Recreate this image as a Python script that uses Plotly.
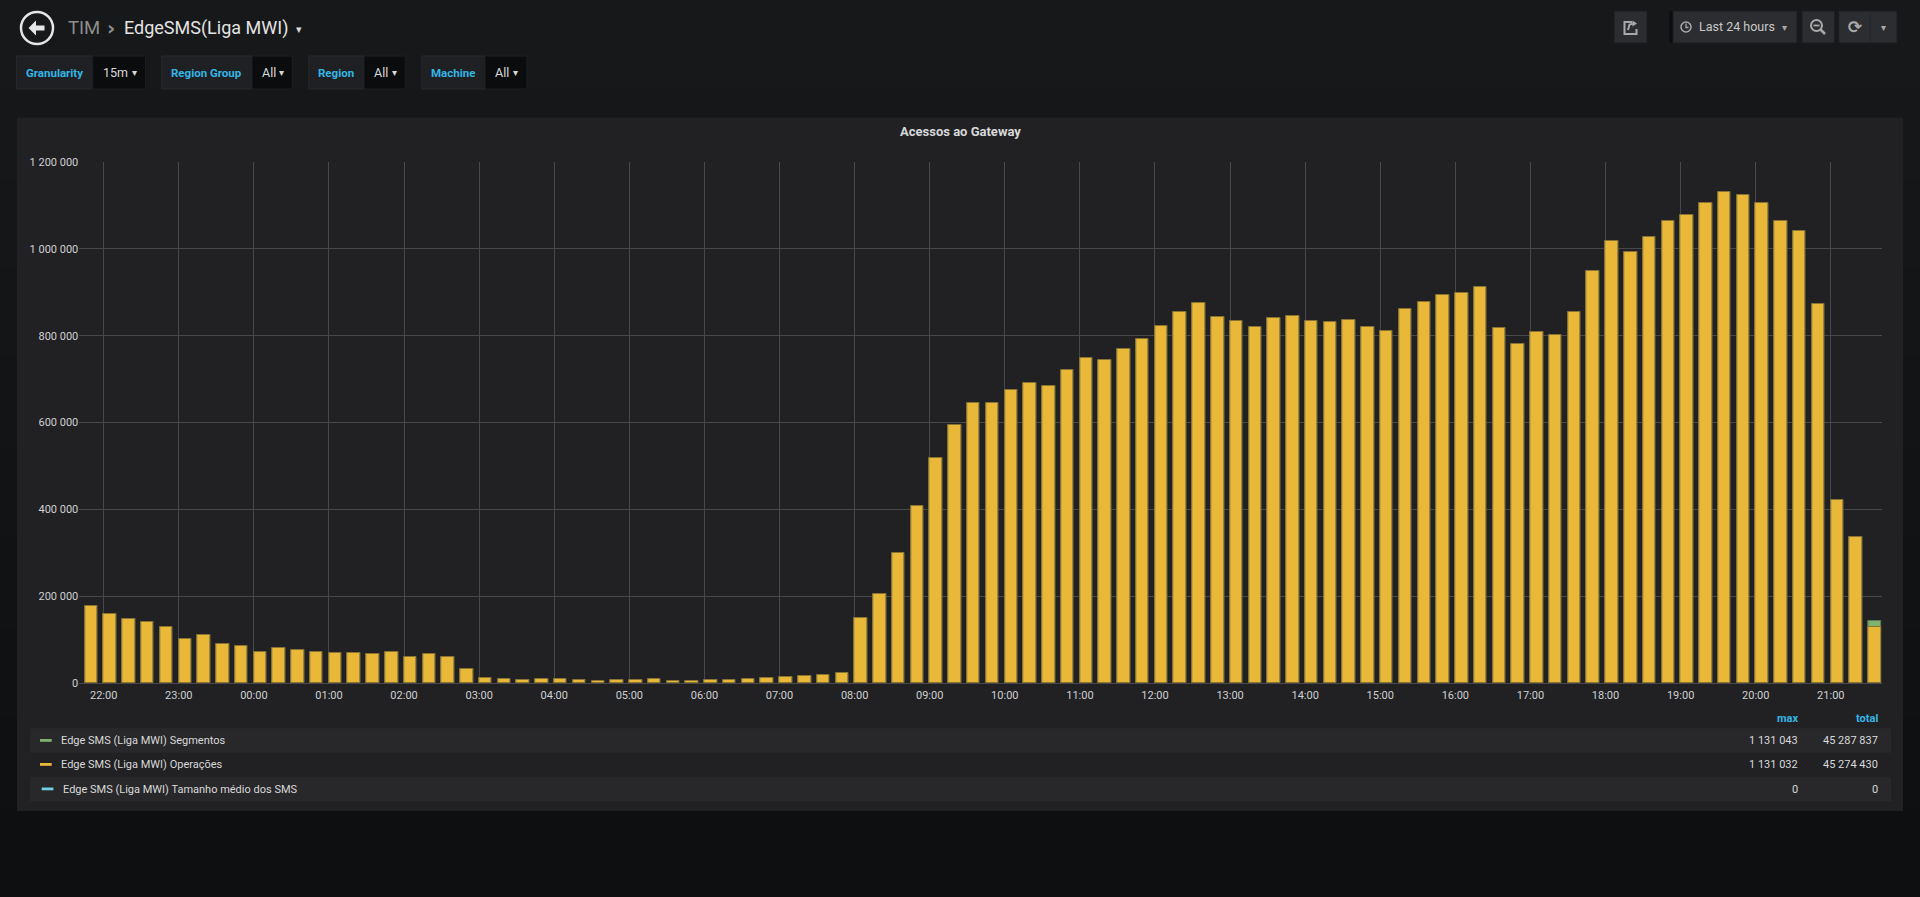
import pandas as pd
import plotly.graph_objects as go

# ---------------- data ----------------
bar_start = "2019-05-13 21:45"
bar_count = 96
range_start = "2019-05-13 21:40:30"
range_end = "2019-05-14 21:40:30"

operacoes = [
    178000, 160000, 148000, 140000, 129000, 102000, 110000, 89000, 85000,
    72000, 80000, 76000, 72500,
    69000, 69500, 67000, 71000,
    60000, 66000, 60000, 32000,
    11000, 9000, 7600, 8400,
    8400, 7000, 5300, 7000,
    7000, 9000, 5300, 4600,
    7000, 7600, 10000, 10700,
    14500, 16000, 18000, 23000,
    149000, 206000, 300000, 408000,
    519000, 594000, 646000, 646000,
    674000, 690000, 685000, 722000,
    748000, 743000, 770000, 793000,
    823000, 854000, 876000, 844000,
    834000, 819000, 840000, 846000,
    833000, 831000, 835000, 821000,
    811000, 862000, 877000, 893000,
    899000, 911000, 818000, 781000,
    808000, 801000, 855000, 950000,
    1017000, 992000, 1028000, 1063000,
    1077000, 1105000, 1131032, 1124000,
    1106000, 1063000, 1042000, 873000,
    421000, 336000, 128500,
]

segmentos = [
    178000, 160000, 148000, 140000, 129000, 102000, 110000, 89000, 85000,
    72000, 80000, 76000, 72500,
    69000, 69500, 67000, 71000,
    60000, 66000, 60000, 32000,
    11000, 9000, 7600, 8400,
    8400, 7000, 5300, 7000,
    7000, 9000, 5300, 4600,
    7000, 7600, 10000, 10700,
    14500, 16000, 18000, 23000,
    149000, 206000, 300000, 408000,
    519000, 594000, 646000, 646000,
    674000, 690000, 685000, 722000,
    748000, 743000, 770000, 793000,
    823000, 854000, 876000, 844000,
    834000, 819000, 840000, 846000,
    833000, 831000, 835000, 821000,
    811000, 862000, 877000, 893000,
    899000, 911000, 818000, 781000,
    808000, 801000, 855000, 950000,
    1017000, 992000, 1028000, 1063000,
    1077000, 1105000, 1131043, 1124000,
    1106000, 1063000, 1042000, 873000,
    421000, 336000, 141900,
]

tamanho = [0] * bar_count

series_names = [
    "Edge SMS (Liga MWI) Segmentos",
    "Edge SMS (Liga MWI) Operações",
    "Edge SMS (Liga MWI) Tamanho médio dos SMS",
]
series_colors = ["#7eb26d", "#eab839", "#6ed0e0"]
legend_max = ["1 131 043", "1 131 032", "0"]
legend_total = ["45 287 837", "45 274 430", "0"]

variables = [("Granularity", "15m"), ("Region Group", "All"), ("Region", "All"), ("Machine", "All")]
panel_title = "Acessos ao Gateway"

times = pd.date_range(bar_start, periods=bar_count, freq="15min")

# ---------------- helpers (pixel -> paper) ----------------
W, H = 1920, 897
FONT = "Roboto"
TEXT = "#d8d9da"
BLUE = "#33b5e5"


def X(px):
    return px / W


def Y(py):
    return 1 - py / H


shapes = []
annotations = []


def rect(x0, y0, x1, y1, fill, line_color=None, line_width=0):
    shapes.append(dict(
        type="rect", xref="paper", yref="paper", layer="below",
        x0=X(x0), x1=X(x1), y0=Y(y1), y1=Y(y0), fillcolor=fill,
        line=dict(color=line_color or fill, width=line_width),
    ))


def circle(cx, cy, r, line_color, width, fill="rgba(0,0,0,0)"):
    shapes.append(dict(
        type="circle", xref="paper", yref="paper", layer="above",
        x0=X(cx - r), x1=X(cx + r), y0=Y(cy + r), y1=Y(cy - r),
        fillcolor=fill, line=dict(color=line_color, width=width),
    ))


def path(points, color, width=0, fill=None, closed=False):
    d = "M " + " L ".join(f"{X(a):.6f},{Y(b):.6f}" for a, b in points)
    if closed:
        d += " Z"
    shapes.append(dict(
        type="path", xref="paper", yref="paper", layer="above", path=d,
        fillcolor=fill or "rgba(0,0,0,0)",
        line=dict(color=color, width=width),
    ))


def text(px, py, s, size, color, anchor="left", family=FONT):
    annotations.append(dict(
        x=X(px), y=Y(py), xref="paper", yref="paper", text=s, showarrow=False,
        xanchor=anchor, yanchor="middle", font=dict(family=family, size=size, color=color),
    ))


# ---------------- page background (vertical shading) ----------------
band_cols = ["#17181a", "#161719", "#151618", "#141517", "#131416", "#121315",
             "#111214", "#101113", "#0f1012", "#0e0f11"]
band_h = H / len(band_cols)
for i, c in enumerate(band_cols):
    rect(0, i * band_h, W, min(H, (i + 1) * band_h + 1), c)

# ---------------- header ----------------
circle(37, 28, 16, "#e6e6e6", 2.5)
path([(28.5, 28), (36, 20.5), (36, 25.5), (44.5, 25.5), (44.5, 30.5), (36, 30.5), (36, 35.5)],
     "#e6e6e6", 0, "#e6e6e6", closed=True)
text(66, 28, "TIM", 18.5, "#8e8e8e")
text(105, 28, "<b>›</b>", 20, "#8e8e8e", family="DejaVu Sans")
text(122, 28, "EdgeSMS(Liga MWI)", 18, "#e3e3e3")
text(299, 30, "▾", 11, "#d8d9da", anchor="center", family="DejaVu Sans")

# variable selectors
var_boxes = [(16.5, 92.7, 145.6), (161.7, 252, 292.3), (308.8, 364, 405.4), (421.8, 485, 526.8)]
for (lab, val), (a, b, c) in zip(variables, var_boxes):
    rect(a, 56, b, 89, "#1f2023", "#27282b", 1)
    rect(b, 56, c, 89, "#0b0c0e", "#1d1e21", 1)
    text((a + b) / 2, 72.7, f"<b>{lab}</b>", 11.5, BLUE, anchor="center")
    text(b + 8, 72.7, val, 12.5, TEXT)
    text(c - 11, 72.5, "▾", 10, TEXT, anchor="center", family="DejaVu Sans")

# top-right buttons
BTN = "#2c2d30"
ICON = "#a9a9aa"
rect(1614, 11, 1647, 43, BTN, "#1c1d20", 1)
rect(1669.5, 11, 1673, 43, "#0c0d0f")
rect(1673, 11, 1797, 43, BTN, "#1c1d20", 1)
rect(1802, 11, 1834.5, 43, BTN, "#1c1d20", 1)
rect(1838.7, 11, 1897, 43, BTN, "#1c1d20", 1)
shapes.append(dict(type="line", xref="paper", yref="paper", layer="above",
                   x0=X(1870.3), x1=X(1870.3), y0=Y(12), y1=Y(42), line=dict(color="#25262a", width=1)))
# share icon
path([(1632, 22), (1624.5, 22), (1624.5, 34), (1636.5, 34), (1636.5, 29)], ICON, 2)
path([(1628, 30), (1629.5, 24.5), (1634, 23.5)], ICON, 2)
path([(1632.5, 20.5), (1637, 23.5), (1632.5, 26.5)], ICON, 0, ICON, closed=True)
# clock icon + label
circle(1686, 27, 5, ICON, 1.5)
path([(1686, 23.5), (1686, 27.5), (1688.5, 27.5)], ICON, 1.3)
text(1696.5, 27, "Last 24 hours", 12.5, "#c8c8c8")
text(1784, 27.5, "▾", 10, ICON, anchor="center", family="DejaVu Sans")
# zoom-out icon
circle(1816.5, 25.5, 5.5, ICON, 2)
path([(1820.5, 29.5), (1825, 34)], ICON, 2.5)
path([(1813.5, 25.5), (1819.5, 25.5)], ICON, 1.8)
# refresh icon + dropdown
text(1854.5, 27, "<b>⟳</b>", 17, ICON, anchor="center", family="DejaVu Sans")
text(1883.5, 27.5, "▾", 10, ICON, anchor="center", family="DejaVu Sans")

# ---------------- panel ----------------
rect(17, 117.5, 1903, 811, "#212124")
text(960, 131, f"<b>{panel_title}</b>", 13, TEXT, anchor="center")

# legend table
text(1800, 718.5, "<b>max</b>", 11, BLUE, anchor="right")
text(1880, 718.5, "<b>total</b>", 11, BLUE, anchor="right")
row_y = [740.5, 764.5, 789]
for i, (name, col, mx, tot) in enumerate(zip(series_names, series_colors, legend_max, legend_total)):
    yc = row_y[i]
    if i != 1:
        rect(30, yc - 12.2, 1891, yc + 12.2, "#28282b")
    dx = 1.7 if i == 2 else 0
    rect(40 + dx, yc - 1.5, 51.7 + dx, yc + 1.3, col)
    text(59 + dx, yc, name, 11, TEXT)
    text(1800, yc, mx, 11, TEXT, anchor="right")
    text(1880, yc, tot, 11, TEXT, anchor="right")

# ---------------- chart ----------------
fig = go.Figure()
bar_line = ["#5e7a52", "#8a7434", "#6ed0e0"]
for name, vals, col, lc in zip(series_names, [segmentos, operacoes, tamanho], series_colors, bar_line):
    fig.add_trace(go.Bar(
        x=times, y=vals, name=name, offset=0, width=10 * 60 * 1000,
        marker=dict(color=col, line=dict(color=lc, width=0 if max(vals) == 0 else 1)),
        hovertemplate="%{x|%H:%M}<br>%{y:,d}<extra>" + name + "</extra>",
    ))

GRID = "#48484b"
fig.update_layout(
    width=W, height=H,
    margin=dict(l=0, r=0, t=0, b=0, pad=0, autoexpand=False),
    paper_bgcolor="#161719",
    plot_bgcolor="rgba(0,0,0,0)",
    barmode="overlay",
    bargap=0,
    showlegend=False,
    separators=", ",
    font=dict(family=FONT, color=TEXT),
    shapes=shapes,
    annotations=annotations,
    xaxis=dict(
        type="date", domain=[X(79.3), X(1881.5)],
        range=[range_start, range_end],
        tickformat="%H:%M", dtick=3600000, tick0="2019-05-14 00:00",
        showgrid=True, gridcolor=GRID, gridwidth=1,
        ticks="", showline=False, zeroline=False, ticklabelstandoff=4,
        tickfont=dict(family=FONT, size=11, color="#cfd0d1"),
    ),
    yaxis=dict(
        domain=[Y(683), Y(162)],
        range=[0, 1200000], dtick=200000, tick0=0,
        tickformat=",d",
        showgrid=True, gridcolor=GRID, gridwidth=1,
        zeroline=True, zerolinecolor=GRID, zerolinewidth=1,
        ticks="", showline=False,
        tickfont=dict(family=FONT, size=11, color="#cfd0d1"),
    ),
)

page_fix = (
    "document.documentElement.style.margin='0';"
    "document.documentElement.style.overflow='hidden';"
    "document.body.style.margin='0';"
    "document.body.style.padding='0';"
    "document.body.style.overflow='hidden';"
    "document.body.style.background='#161719';"
)
fig.write_html("out.html", post_script=page_fix, config={"displayModeBar": False})
